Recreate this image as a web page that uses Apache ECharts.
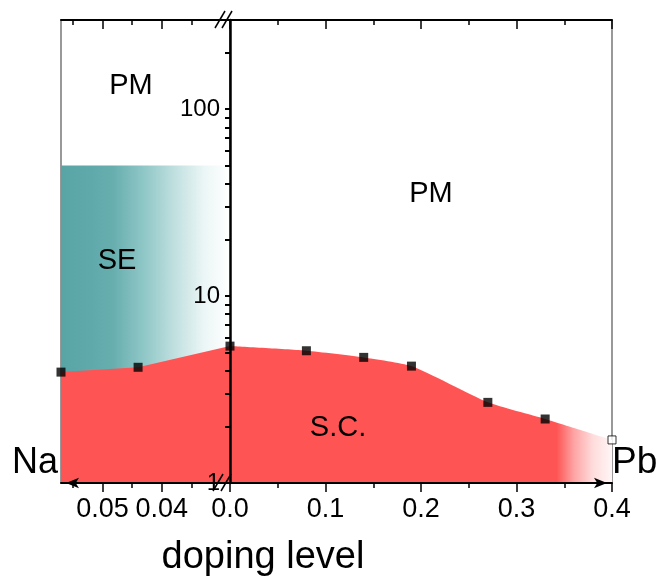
<!DOCTYPE html>
<html>
<head>
<meta charset="utf-8">
<script src="https://cdn.jsdelivr.net/npm/echarts@6/dist/echarts.min.js"></script>
<style>html,body{margin:0;padding:0;background:#fff;}#c{width:660px;height:578px;}</style>
</head>
<body>
<div id="c"></div>
<script>
// ---- data ----
const naDoping = [0.057, 0.044];
const naTc = [3.92, 4.16];
const pbDoping = [0.0, 0.08, 0.14, 0.19, 0.27, 0.33];
const pbTc = [5.4, 5.1, 4.7, 4.22, 2.7, 2.2];
const pbEndDoping = [0.4];
const pbEndTc = [1.7];
const seUpper = 50;            // upper limit of SE region
const naBreak = 0.0285;        // Na-axis value where the axis break (0.0) sits
const naAxisMax = 0.057;
const pbAxisMax = 0.4;
const yMin = 1, yMax = 300;
const yLabelValues = [1, 10, 100];
const yTickValues = [1,2,3,4,5,6,7,8,9,10,20,30,40,50,60,70,80,90,100,200];
const naMajorTicks = [0.04, 0.05];
const naMinorTicks = [0.035, 0.045, 0.055];
const xTickLabelsRightInterval = 0.1;

// ---- chart ----
const FONT = '"Liberation Sans", Arial, Helvetica, sans-serif';
const chart = echarts.init(document.getElementById('c'), null, {renderer: 'canvas'});

const naPts = naDoping.map((d, i) => [d, naTc[i]]);
const pbPts = pbDoping.map((d, i) => [d, pbTc[i]]);
const pbEndPts = pbEndDoping.map((d, i) => [d, pbEndTc[i]]);
const redLeft = naPts.concat([[naBreak, pbTc[0]]]);
const redRight = pbPts.concat(pbEndPts);

const black = '#000';
const G = {top: 20, height: 463};
const GL = {left: 61, width: 169};
const GR = {left: 230, width: 382};

function naAxis(extra) {
  return Object.assign({
    type: 'value', inverse: true, min: naBreak, max: naAxisMax, z: 10,
    splitLine: {show: false}
  }, extra);
}

const option = {
  animation: false,
  backgroundColor: '#fff',
  textStyle: {fontFamily: FONT},
  grid: [
    Object.assign({show: true, borderColor: '#555', borderWidth: 1.2, backgroundColor: 'transparent'}, G, GL),
    Object.assign({show: true, borderColor: '#555', borderWidth: 1.2, backgroundColor: 'transparent'}, G, GR),
    Object.assign({show: false}, G, GL)
  ],
  xAxis: [
    naAxis({gridIndex: 0, position: 'bottom',
      axisLine: {show: true, lineStyle: {color: black, width: 2}, symbol: ['arrow', 'none'], symbolSize: [8, 13], symbolOffset: [5, 0]},
      axisTick: {show: true, customValues: naMajorTicks, length: 9, lineStyle: {color: black, width: 1.5}},
      axisLabel: {show: true, customValues: naMajorTicks, formatter: v => v.toFixed(2), fontSize: 27, color: black, margin: 13, fontFamily: FONT}
    }),
    naAxis({gridIndex: 0, position: 'top',
      axisLine: {show: true, lineStyle: {color: black, width: 2}},
      axisTick: {show: true, inside: true, customValues: naMajorTicks, length: 9, lineStyle: {color: black, width: 1.5}},
      axisLabel: {show: false}
    }),
    {gridIndex: 1, type: 'value', min: 0, max: pbAxisMax, interval: xTickLabelsRightInterval, position: 'bottom', z: 10,
      axisLine: {show: true, lineStyle: {color: black, width: 2}, symbol: ['none', 'arrow'], symbolSize: [8, 13], symbolOffset: [0, -5]},
      axisTick: {show: true, length: 9, lineStyle: {color: black, width: 1.5}},
      minorTick: {show: true, splitNumber: 2, length: 5, lineStyle: {color: black, width: 1.5}},
      axisLabel: {show: true, formatter: v => v.toFixed(1), fontSize: 27, color: black, margin: 13, showMinLabel: true, showMaxLabel: true, fontFamily: FONT},
      splitLine: {show: false}, minorSplitLine: {show: false}
    },
    {gridIndex: 1, type: 'value', min: 0, max: pbAxisMax, interval: xTickLabelsRightInterval, position: 'top', z: 10,
      axisLine: {show: true, lineStyle: {color: black, width: 2}},
      axisTick: {show: true, inside: true, length: 9, lineStyle: {color: black, width: 1.5}},
      minorTick: {show: true, splitNumber: 2, length: 5, lineStyle: {color: black, width: 1.5}},
      axisLabel: {show: false},
      splitLine: {show: false}, minorSplitLine: {show: false}
    },
    naAxis({gridIndex: 2, position: 'bottom',
      axisLine: {show: false},
      axisTick: {show: true, customValues: naMinorTicks, length: 5, lineStyle: {color: black, width: 1.5}},
      axisLabel: {show: false}
    }),
    naAxis({gridIndex: 2, position: 'top',
      axisLine: {show: false},
      axisTick: {show: true, inside: true, customValues: naMinorTicks, length: 5, lineStyle: {color: black, width: 1.5}},
      axisLabel: {show: false}
    })
  ],
  yAxis: [
    {gridIndex: 0, type: 'log', logBase: 10, min: yMin, max: yMax, show: false, splitLine: {show: false}},
    {gridIndex: 1, type: 'log', logBase: 10, min: yMin, max: yMax, position: 'left', z: 10,
      axisLine: {show: true, lineStyle: {color: black, width: 2.5}},
      axisTick: {show: true, customValues: yTickValues, length: 5, lineStyle: {color: black, width: 2}},
      axisLabel: {show: true, customValues: yLabelValues, fontSize: 24, color: black, margin: 10, fontFamily: FONT},
      splitLine: {show: false}, minorTick: {show: false}
    },
    {gridIndex: 2, type: 'value', min: 0, max: 1, show: false, splitLine: {show: false}}
  ],
  series: [
    {type: 'line', name: 'SE', xAxisIndex: 0, yAxisIndex: 0, z: 1,
      data: [[naAxisMax, seUpper], [naBreak, seUpper]],
      symbol: 'none', lineStyle: {width: 0},
      areaStyle: {origin: 'start', opacity: 1, color: new echarts.graphic.LinearGradient(0, 0, 1, 0, [
        {offset: 0, color: '#58a4a5'}, {offset: 0.3, color: '#66adae'}, {offset: 0.5, color: '#92c8c8'},
        {offset: 0.7, color: '#c8e3e3'}, {offset: 0.85, color: '#ecf6f6'}, {offset: 1, color: '#ffffff'}])}
    },
    {type: 'line', name: 'SC Na', xAxisIndex: 0, yAxisIndex: 0, z: 2,
      data: redLeft, symbol: 'none', lineStyle: {width: 0},
      areaStyle: {origin: 'start', opacity: 1, color: '#ff5454'}
    },
    {type: 'line', name: 'SC Pb', xAxisIndex: 2, yAxisIndex: 1, z: 2,
      data: redRight, symbol: 'none', smooth: 0.2, lineStyle: {width: 0},
      areaStyle: {origin: 'start', opacity: 1, color: new echarts.graphic.LinearGradient(0, 0, 1, 0, [
        {offset: 0, color: '#ff5454'}, {offset: 0.855, color: '#ff5454'}, {offset: 0.9, color: '#ffa3a3'},
        {offset: 0.95, color: '#ffdcdc'}, {offset: 1, color: '#fff6f6'}])}
    },
    {type: 'scatter', name: 'Tc Na', xAxisIndex: 0, yAxisIndex: 0, z: 5, clip: false,
      data: naPts, symbol: 'rect', symbolSize: 9, itemStyle: {color: black}},
    {type: 'scatter', name: 'Tc Pb', xAxisIndex: 2, yAxisIndex: 1, z: 5, clip: false,
      data: pbPts, symbol: 'rect', symbolSize: 9, itemStyle: {color: black}},
    {type: 'scatter', name: 'Tc Pb end', xAxisIndex: 2, yAxisIndex: 1, z: 5, clip: false,
      data: pbEndPts, symbol: 'rect', symbolSize: 8, itemStyle: {color: '#fff', borderColor: black, borderWidth: 1}}
  ],
  graphic: [
    {type: 'text', z: 100, x: 131, y: 86, style: {text: 'PM', font: '29px ' + FONT, fill: black, align: 'center', verticalAlign: 'middle'}},
    {type: 'text', z: 100, x: 431, y: 194, style: {text: 'PM', font: '29px ' + FONT, fill: black, align: 'center', verticalAlign: 'middle'}},
    {type: 'text', z: 100, x: 117, y: 261, style: {text: 'SE', font: '29px ' + FONT, fill: black, align: 'center', verticalAlign: 'middle'}},
    {type: 'text', z: 100, x: 338, y: 428, style: {text: 'S.C.', font: '29px ' + FONT, fill: black, align: 'center', verticalAlign: 'middle'}},
    {type: 'text', z: 100, x: 58, y: 463, style: {text: 'Na', font: '36px ' + FONT, fill: black, align: 'right', verticalAlign: 'middle'}},
    {type: 'text', z: 100, x: 612, y: 463, style: {text: 'Pb', font: '37px ' + FONT, fill: black, align: 'left', verticalAlign: 'middle'}},
    {type: 'text', z: 100, x: 263, y: 558, style: {text: 'doping level', font: '38px ' + FONT, fill: black, align: 'center', verticalAlign: 'middle'}},
    // axis-break marks
    {type: 'line', z: 100, shape: {x1: 215, y1: 28, x2: 225, y2: 11}, style: {stroke: black, lineWidth: 1.5}},
    {type: 'line', z: 100, shape: {x1: 222, y1: 28, x2: 232, y2: 11}, style: {stroke: black, lineWidth: 1.5}},
    {type: 'line', z: 100, shape: {x1: 213, y1: 491, x2: 223, y2: 474}, style: {stroke: black, lineWidth: 1.5}},
    {type: 'line', z: 100, shape: {x1: 221, y1: 491, x2: 231, y2: 474}, style: {stroke: black, lineWidth: 1.5}}
  ]
};
chart.setOption(option);
</script>
</body>
</html>
